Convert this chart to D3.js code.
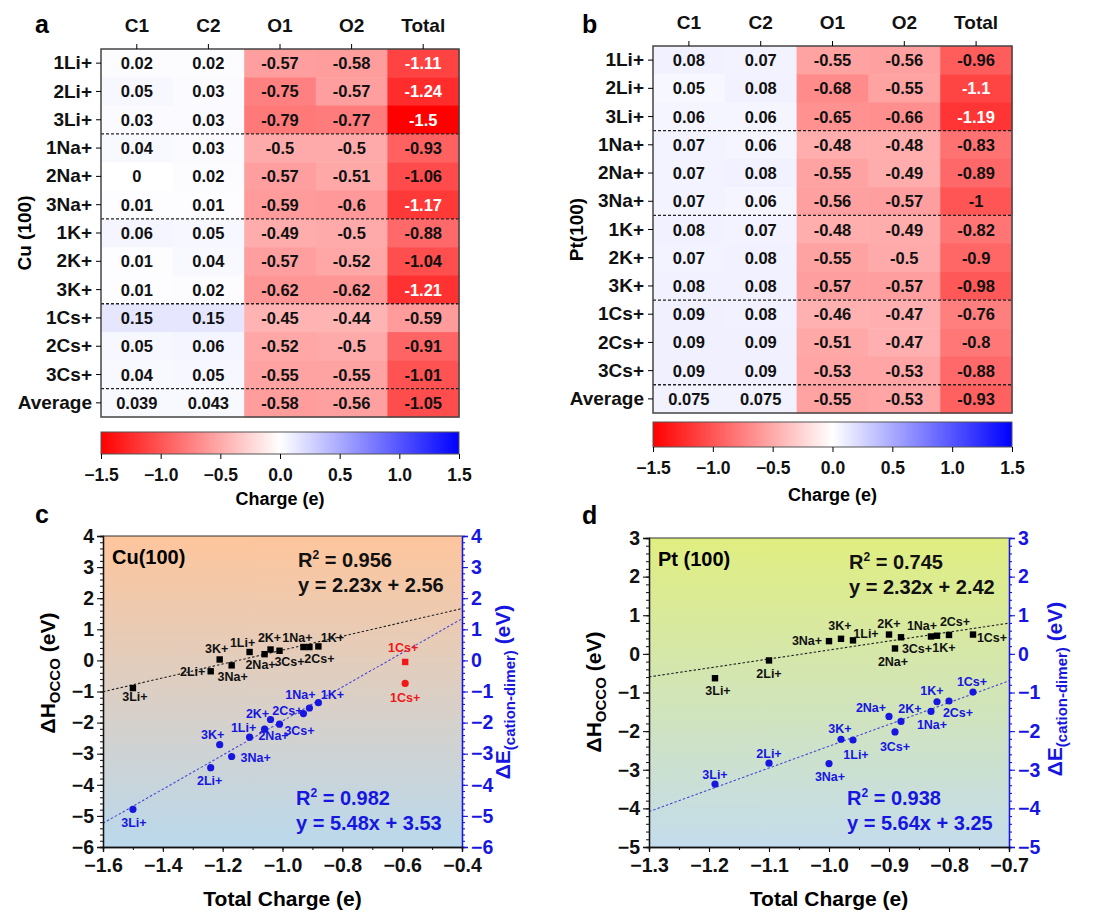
<!DOCTYPE html>
<html>
<head>
<meta charset="utf-8">
<title>Charge vs OCCO</title>
<script src="https://d3js.org/d3.v7.min.js"></script>
<style>
  body { margin: 0; background: #fff; }
  svg text { font-family: Arial, "Liberation Sans", sans-serif; font-weight: bold; }
</style>
</head>
<body>
<script>
// ---- data ----
var cations = ["1Li+", "2Li+", "3Li+", "1Na+", "2Na+", "3Na+", "1K+", "2K+", "3K+", "1Cs+", "2Cs+", "3Cs+"];
var rowLabels = cations.concat(["Average"]);
var atoms = ["C1", "C2", "O1", "O2", "Total"];

// Cu(100) charges (last value = average)
var cuC1 = [0.02, 0.05, 0.03, 0.04, 0, 0.01, 0.06, 0.01, 0.01, 0.15, 0.05, 0.04, 0.039];
var cuC2 = [0.02, 0.03, 0.03, 0.03, 0.02, 0.01, 0.05, 0.04, 0.02, 0.15, 0.06, 0.05, 0.043];
var cuO1 = [-0.57, -0.75, -0.79, -0.5, -0.57, -0.59, -0.49, -0.57, -0.62, -0.45, -0.52, -0.55, -0.58];
var cuO2 = [-0.58, -0.57, -0.77, -0.5, -0.51, -0.6, -0.5, -0.52, -0.62, -0.44, -0.5, -0.55, -0.56];
var cuTotal = [-1.11, -1.24, -1.5, -0.93, -1.06, -1.17, -0.88, -1.04, -1.21, -0.59, -0.91, -1.01, -1.05];

// Pt(100) charges
var ptC1 = [0.08, 0.05, 0.06, 0.07, 0.07, 0.07, 0.08, 0.07, 0.08, 0.09, 0.09, 0.09, 0.075];
var ptC2 = [0.07, 0.08, 0.06, 0.06, 0.08, 0.06, 0.07, 0.08, 0.08, 0.08, 0.09, 0.09, 0.075];
var ptO1 = [-0.55, -0.68, -0.65, -0.48, -0.55, -0.56, -0.48, -0.55, -0.57, -0.46, -0.51, -0.53, -0.55];
var ptO2 = [-0.56, -0.55, -0.66, -0.48, -0.49, -0.57, -0.49, -0.5, -0.57, -0.47, -0.47, -0.53, -0.53];
var ptTotal = [-0.96, -1.1, -1.19, -0.83, -0.89, -1, -0.82, -0.9, -0.98, -0.76, -0.8, -0.88, -0.93];

var barTicks = [-1.5, -1.0, -0.5, 0, 0.5, 1.0, 1.5];

// scatter: dH_OCCO and dE(cation-dimer), in cation order
var cuDH = [0.27, -0.35, -0.89, 0.43, 0.20, -0.16, 0.45, 0.35, 0.03, -0.05, 0.43, 0.31];
var cuDE = [-2.47, -3.45, -4.79, -1.71, -2.21, -3.09, -1.36, -1.90, -2.71, -0.74, -1.53, -2.05];
var ptDH = [0.35, -0.17, -0.63, 0.45, 0.14, 0.33, 0.47, 0.50, 0.39, 0.50, 0.49, 0.43];
var ptDE = [-2.23, -2.83, -3.37, -1.49, -2.02, -2.84, -1.24, -1.62, -2.21, -0.99, -1.22, -1.75];

// fitted lines [slope, intercept], from the annotations
var cuFitDH = [2.23, 2.56], cuFitDE = [5.48, 3.53];
var ptFitDH = [2.32, 2.42], ptFitDE = [5.64, 3.25];
var cuFitText = ["0.956", "y = 2.23x + 2.56", "0.982", "y = 5.48x + 3.53"];
var ptFitText = ["0.745", "y = 2.32x + 2.42", "0.938", "y = 5.64x + 3.25"];

// label offsets in px (layout only)
var cuDHOff = [[-7,-10],[-18,0],[2,8],[-6,-10],[-4,10],[1,11],[14,-9],[-1,-12],[-3,-11],[-2,-14],[10,11],[10,11]];
var cuDEOff = [[-6,-10],[-1,13],[1,13],[-3,-19],[9,6],[24,1],[14,-8],[-13,-6],[-7,-10],[0,14],[-22,3],[20,6]];
var ptDHOff = [[13,-7],[0,13],[3,12],[-9,-11],[-2,13],[-22,-1],[7,12],[0,-11],[-1,-13],[19,3],[6,-13],[16,11]];
var ptDEOff = [[3,14],[0,-10],[0,-10],[1,13],[-24,-24],[1,13],[-5,-11],[21,-8],[-1,-11],[-1,-11],[9,12],[-6,25]];

var RED = "#f01818", BLUE = "#1616e0";

var svg = d3.select("body").append("svg").attr("width", 1110).attr("height", 913);
var defs = svg.append("defs");

var charge = d3.scaleLinear().domain([-1.5, 0, 1.5]).range(["#ff0000", "#ffffff", "#0000ff"]);

// ---- heatmaps ----
function heatmap(o) {
  var g = svg.append("g");
  var x = d3.scaleBand().domain(atoms).range([o.x0, o.x1]);
  var y = d3.scaleBand().domain(rowLabels).range([o.y0, o.y1]);
  var cells = [];
  o.cols.forEach(function (col, j) {
    col.forEach(function (v, i) { cells.push({ r: rowLabels[i], c: atoms[j], v: v }); });
  });
  g.selectAll("rect.cell").data(cells).enter().append("rect")
    .attr("x", function (d) { return x(d.c); })
    .attr("y", function (d) { return y(d.r); })
    .attr("width", x.bandwidth() + 0.5)
    .attr("height", y.bandwidth() + 0.5)
    .attr("fill", function (d) { return charge(d.v); });
  g.selectAll("text.val").data(cells).enter().append("text")
    .attr("x", function (d) { return x(d.c) + x.bandwidth() / 2; })
    .attr("y", function (d) { return y(d.r) + y.bandwidth() / 2 + 6; })
    .attr("text-anchor", "middle")
    .attr("font-size", 16.5)
    .attr("fill", function (d) { return d.v <= -1.1 ? "#fff" : "#111"; })
    .text(function (d) { return String(d.v); });
  // group separators
  [2, 5, 8, 11].forEach(function (i) {
    var yy = y(rowLabels[i]) + y.bandwidth();
    g.append("line").attr("x1", o.x0).attr("x2", o.x1).attr("y1", yy).attr("y2", yy)
      .attr("stroke", "#222").attr("stroke-width", 1.3).attr("stroke-dasharray", "3,2");
  });
  g.append("rect").attr("x", o.x0).attr("y", o.y0).attr("width", o.x1 - o.x0).attr("height", o.y1 - o.y0)
    .attr("fill", "none").attr("stroke", "#444").attr("stroke-width", 1.5);
  // axes
  var ya = g.append("g").attr("transform", "translate(" + o.x0 + ",0)")
    .call(d3.axisLeft(y).tickSize(5).tickPadding(4));
  ya.select(".domain").remove();
  ya.selectAll("text").attr("font-size", 19).attr("fill", "#111").attr("font-family", null);
  var xa = g.append("g").attr("transform", "translate(0," + o.y0 + ")")
    .call(d3.axisTop(x).tickSize(5).tickPadding(12));
  xa.select(".domain").remove();
  xa.selectAll("text").attr("font-size", 19).attr("fill", "#111").attr("font-family", null);
  g.append("text").attr("transform", "translate(" + o.titleX + "," + ((o.y0 + o.y1) / 2) + ") rotate(-90)")
    .attr("text-anchor", "middle").attr("font-size", 19).attr("dy", "0.35em").text(o.title);
  // colorbar
  var gid = o.id + "bar";
  var grad = defs.append("linearGradient").attr("id", gid);
  charge.domain().forEach(function (d, i) {
    grad.append("stop").attr("offset", (i * 50) + "%").attr("stop-color", charge(d));
  });
  g.append("rect").attr("x", o.x0).attr("y", o.barY).attr("width", o.x1 - o.x0).attr("height", o.barH)
    .attr("fill", "url(#" + gid + ")").attr("stroke", "#555").attr("stroke-width", 1);
  var bx = d3.scaleLinear().domain([-1.5, 1.5]).range([o.x0, o.x1]);
  var ba = g.append("g").attr("transform", "translate(0," + (o.barY + o.barH) + ")")
    .call(d3.axisBottom(bx).tickValues(barTicks).tickFormat(d3.format(".1f")).tickSize(5).tickPadding(10));
  ba.select(".domain").remove();
  ba.selectAll("text").attr("font-size", 17.5).attr("fill", "#111").attr("font-family", null);
  g.append("text").attr("x", (o.x0 + o.x1) / 2).attr("y", o.labelY)
    .attr("text-anchor", "middle").attr("font-size", 18).text("Charge (e)");
}

heatmap({ id: "a", cols: [cuC1, cuC2, cuO1, cuO2, cuTotal], x0: 101, x1: 459, y0: 49, y1: 417,
  title: "Cu (100)", titleX: 24, barY: 432, barH: 22, labelY: 505 });
heatmap({ id: "b", cols: [ptC1, ptC2, ptO1, ptO2, ptTotal], x0: 653, x1: 1012, y0: 46, y1: 413,
  title: "Pt(100)", titleX: 576, barY: 422, barH: 25, labelY: 501 });

// ---- scatter panels ----
function scatter(o) {
  var g = svg.append("g");
  var x = d3.scaleLinear().domain(o.xDomain).range([o.left, o.right]);
  var y = d3.scaleLinear().domain(o.yDomain).range([o.bottom, o.top]);
  var gid = o.id + "bg";
  var grad = defs.append("linearGradient").attr("id", gid).attr("x1", 0).attr("y1", 0).attr("x2", 0).attr("y2", 1);
  grad.append("stop").attr("offset", "0%").attr("stop-color", o.bgTop);
  grad.append("stop").attr("offset", "100%").attr("stop-color", o.bgBottom);
  g.append("rect").attr("x", o.left).attr("y", o.top).attr("width", o.right - o.left).attr("height", o.bottom - o.top)
    .attr("fill", "url(#" + gid + ")");

  // fit lines
  [[o.fitDH, "#222"], [o.fitDE, "#4848d8"]].forEach(function (f) {
    var x0 = o.xDomain[0], x1 = o.xDomain[1];
    g.append("line")
      .attr("x1", x(x0)).attr("y1", y(f[0][0] * x0 + f[0][1]))
      .attr("x2", x(x1)).attr("y2", y(f[0][0] * x1 + f[0][1]))
      .attr("stroke", f[1]).attr("stroke-width", 1.1).attr("stroke-dasharray", "2.5,2");
  });

  var pts = o.total.map(function (t, i) {
    return { name: cations[i], x: t, h: o.dh[i], e: o.de[i], red: o.redIdx.indexOf(i) >= 0,
             oh: o.dhOff[i], oe: o.deOff[i] };
  });
  g.selectAll("rect.sq").data(pts).enter().append("rect")
    .attr("x", function (d) { return x(d.x) - 3.2; })
    .attr("y", function (d) { return y(d.h) - 3.2; })
    .attr("width", 6.4).attr("height", 6.4)
    .attr("fill", function (d) { return d.red ? RED : "#000"; });
  g.selectAll("circle.ci").data(pts).enter().append("circle")
    .attr("cx", function (d) { return x(d.x); })
    .attr("cy", function (d) { return y(d.e); })
    .attr("r", 3.6)
    .attr("fill", function (d) { return d.red ? RED : BLUE; });
  g.selectAll("text.lh").data(pts).enter().append("text")
    .attr("x", function (d) { return x(d.x) + d.oh[0]; })
    .attr("y", function (d) { return y(d.h) + d.oh[1] + 4.5; })
    .attr("text-anchor", "middle").attr("font-size", 12.5)
    .attr("fill", function (d) { return d.red ? RED : "#111"; })
    .text(function (d) { return d.name; });
  g.selectAll("text.le").data(pts).enter().append("text")
    .attr("x", function (d) { return x(d.x) + d.oe[0]; })
    .attr("y", function (d) { return y(d.e) + d.oe[1] + 4.5; })
    .attr("text-anchor", "middle").attr("font-size", 12.5)
    .attr("fill", function (d) { return d.red ? RED : BLUE; })
    .text(function (d) { return d.name; });

  // axes
  var yTicks = d3.range(o.yDomain[0], o.yDomain[1] + 0.01, 1);
  var yMinor = d3.range(o.yDomain[0], o.yDomain[1] + 0.01, 0.2);
  var xTicks = d3.range(0, 7).map(function (i) { return +(o.xDomain[0] + i * o.xStep).toFixed(2); });
  var xMinor = d3.range(0, 13).map(function (i) { return +(o.xDomain[0] + i * o.xStep / 2).toFixed(3); });

  function style(sel, col) {
    sel.select(".domain").attr("stroke", col).attr("stroke-width", 1.3);
    sel.selectAll(".tick line").attr("stroke", col).attr("stroke-width", 1.1);
    sel.selectAll("text").attr("font-size", 19.5).attr("fill", col).attr("font-family", null);
  }
  var minorL = g.append("g").attr("transform", "translate(" + o.left + ",0)")
    .call(d3.axisLeft(y).tickValues(yMinor).tickSize(3).tickFormat(""));
  style(minorL, "#222");
  var yl = g.append("g").attr("transform", "translate(" + o.left + ",0)")
    .call(d3.axisLeft(y).tickValues(yTicks).tickSize(6).tickPadding(3).tickFormat(d3.format("d")));
  style(yl, "#111");
  var minorR = g.append("g").attr("transform", "translate(" + o.right + ",0)")
    .call(d3.axisRight(y).tickValues(yMinor).tickSize(3).tickFormat(""));
  style(minorR, BLUE);
  var yr = g.append("g").attr("transform", "translate(" + o.right + ",0)")
    .call(d3.axisRight(y).tickValues(yTicks).tickSize(6).tickPadding(3).tickFormat(d3.format("d")));
  style(yr, BLUE);
  var minorB = g.append("g").attr("transform", "translate(0," + o.bottom + ")")
    .call(d3.axisBottom(x).tickValues(xMinor).tickSize(3).tickFormat(""));
  style(minorB, "#222");
  var xb = g.append("g").attr("transform", "translate(0," + o.bottom + ")")
    .call(d3.axisBottom(x).tickValues(xTicks).tickSize(5).tickPadding(6).tickFormat(d3.format(".1f")));
  style(xb, "#111");
  g.append("line").attr("x1", o.left).attr("x2", o.right).attr("y1", o.top).attr("y2", o.top)
    .attr("stroke", "#333").attr("stroke-width", 1.2);

  // titles
  g.append("text").attr("x", (o.left + o.right) / 2).attr("y", o.bottom + 59)
    .attr("text-anchor", "middle").attr("font-size", 21).text("Total Charge (e)");
  var lt = g.append("text").attr("transform", "translate(" + o.ylX + "," + o.ylY + ") rotate(-90)")
    .attr("text-anchor", "middle").attr("font-size", 21);
  lt.append("tspan").text("\u0394H");
  lt.append("tspan").attr("font-size", 15).attr("dy", 5).text("OCCO");
  lt.append("tspan").attr("dy", -5).text(" (eV)");
  var rt = g.append("text").attr("transform", "translate(" + o.yrX + "," + o.yrY + ") rotate(-90)")
    .attr("text-anchor", "middle").attr("font-size", 21).attr("fill", BLUE);
  rt.append("tspan").text("\u0394E");
  rt.append("tspan").attr("font-size", 15).attr("dy", 5).text("(cation-dimer)");
  rt.append("tspan").attr("dy", -5).text(" (eV)");

  // annotations
  g.append("text").attr("x", o.left + 9).attr("y", o.top + 28).attr("font-size", 20).text(o.name);
  var r1 = g.append("text").attr("x", o.annX).attr("y", o.top + 31).attr("font-size", 20).attr("fill", "#111");
  r1.append("tspan").text("R");
  r1.append("tspan").attr("font-size", 12).attr("dy", -8).text("2");
  r1.append("tspan").attr("dy", 8).text(" = " + o.fitText[0]);
  g.append("text").attr("x", o.annX).attr("y", o.top + 56).attr("font-size", 20).attr("fill", "#111").text(o.fitText[1]);
  var r2 = g.append("text").attr("x", o.annX - 2).attr("y", o.bottom - 42).attr("font-size", 20).attr("fill", BLUE);
  r2.append("tspan").text("R");
  r2.append("tspan").attr("font-size", 12).attr("dy", -8).text("2");
  r2.append("tspan").attr("dy", 8).text(" = " + o.fitText[2]);
  g.append("text").attr("x", o.annX - 2).attr("y", o.bottom - 17).attr("font-size", 20).attr("fill", BLUE).text(o.fitText[3]);
}

scatter({ id: "c", name: "Cu(100)", left: 103, right: 462, top: 536, bottom: 847,
  xDomain: [-1.6, -0.4], xStep: 0.2, yDomain: [-6, 4],
  bgTop: "#fec59c", bgBottom: "#bad9ec",
  total: cuTotal.slice(0, 12), dh: cuDH, de: cuDE, redIdx: [9],
  dhOff: cuDHOff, deOff: cuDEOff, fitDH: cuFitDH, fitDE: cuFitDE, fitText: cuFitText,
  annX: 298, ylX: 55, ylY: 673, yrX: 510, yrY: 692 });
scatter({ id: "d", name: "Pt (100)", left: 649, right: 1009, top: 538, bottom: 847,
  xDomain: [-1.3, -0.7], xStep: 0.1, yDomain: [-5, 3],
  bgTop: "#e0ee80", bgBottom: "#c4dcec",
  total: ptTotal.slice(0, 12), dh: ptDH, de: ptDE, redIdx: [],
  dhOff: ptDHOff, deOff: ptDEOff, fitDH: ptFitDH, fitDE: ptFitDE, fitText: ptFitText,
  annX: 849, ylX: 601, ylY: 692, yrX: 1062, yrY: 689 });

// panel letters
[["a", 35, 33], ["b", 582, 33], ["c", 35, 523], ["d", 582, 524]].forEach(function (p) {
  svg.append("text").attr("x", p[1]).attr("y", p[2]).attr("font-size", 25).text(p[0]);
});
</script>
</body>
</html>
